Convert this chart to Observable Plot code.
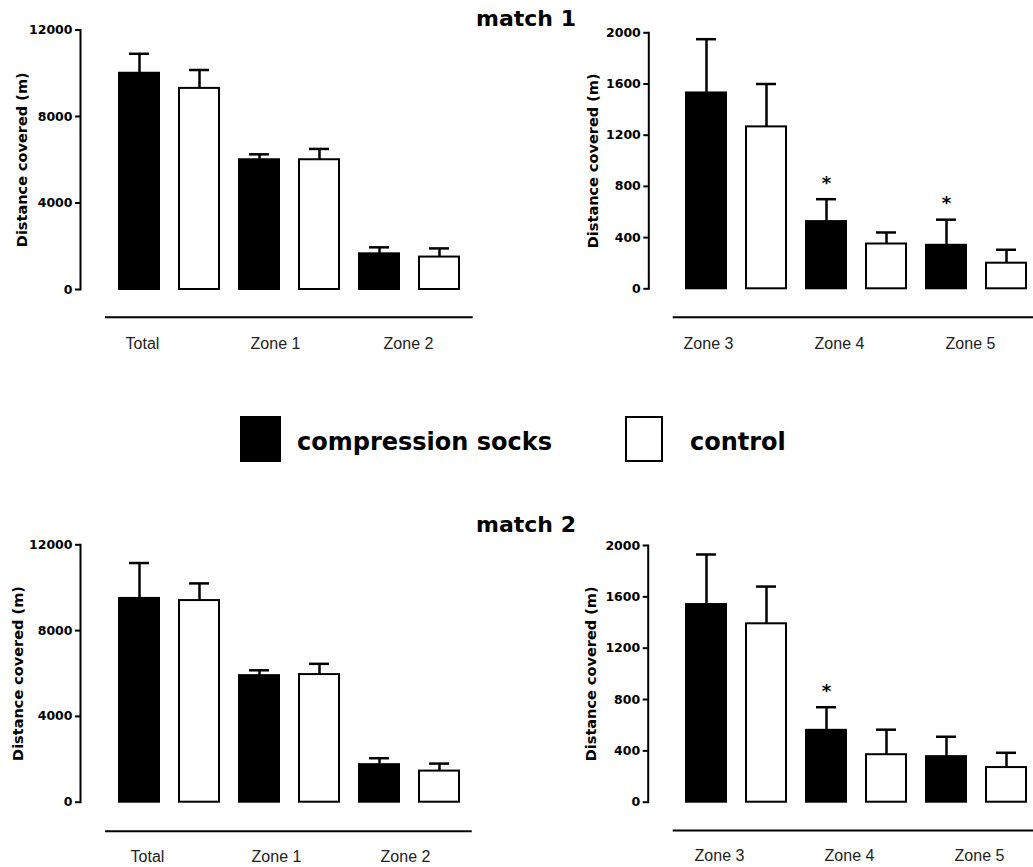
<!DOCTYPE html>
<html><head><meta charset="utf-8">
<script src="https://cdn.jsdelivr.net/npm/d3@7"></script>
<script src="https://cdn.jsdelivr.net/npm/@observablehq/plot@0.6"></script>
<style>
body{margin:0;background:#fff}
#root{position:relative;width:1033px;height:867px;overflow:hidden;background:#fff}
.abs{position:absolute}
.title{font-family:"DejaVu Sans",sans-serif;font-weight:bold;font-size:22px;line-height:1;color:#000;text-align:center;white-space:nowrap}
.legtext{font-family:"DejaVu Sans",sans-serif;font-weight:bold;font-size:24px;line-height:1;color:#000;white-space:nowrap}
.box{box-sizing:border-box;border:2px solid #000}
</style></head>
<body><div id="root"></div>
<script>
// ---- data ----
const series = ["compression socks", "control"];
const yLabel = "Distance covered (m)";
const groupsA = ["Total", "Zone 1", "Zone 2"];
const groupsB = ["Zone 3", "Zone 4", "Zone 5"];
const ticksA = [0, 4000, 8000, 12000];
const ticksB = [0, 400, 800, 1200, 1600, 2000];

// match 1
const m1A_socks = [10000, 6000, 1650];
const m1A_socksSd = [900, 250, 300];
const m1A_ctrl = [9300, 6000, 1500];
const m1A_ctrlSd = [850, 500, 400];
const m1B_socks = [1530, 525, 340];
const m1B_socksSd = [420, 175, 200];
const m1B_ctrl = [1265, 350, 200];
const m1B_ctrlSd = [335, 90, 105];
const m1B_sig = [false, true, true];

// match 2
const m2A_socks = [9500, 5900, 1750];
const m2A_socksSd = [1650, 250, 300];
const m2A_ctrl = [9400, 5950, 1450];
const m2A_ctrlSd = [800, 500, 350];
const m2B_socks = [1540, 560, 355];
const m2B_socksSd = [390, 180, 155];
const m2B_ctrl = [1390, 370, 270];
const m2B_ctrlSd = [290, 195, 115];
const m2B_sig = [false, true, false];

const root = document.getElementById("root");

function place(el, left, top) {
  el.style.position = "absolute";
  el.style.left = left + "px";
  el.style.top = top + "px";
  root.appendChild(el);
}

function buildRows(groups, socks, socksSd, ctrl, ctrlSd, sig) {
  const rows = [];
  groups.forEach((g, i) => {
    rows.push({key: g + "|" + series[0], series: series[0], mean: socks[i], sd: socksSd[i], sig: sig ? sig[i] : false});
    rows.push({key: g + "|" + series[1], series: series[1], mean: ctrl[i], sd: ctrlSd[i], sig: false});
  });
  return rows;
}

const catFont = "'Liberation Sans Narrow', 'Arial Narrow', 'Liberation Sans', sans-serif";

function panel(p) {
  const rows = buildRows(p.groups, p.socks, p.socksSd, p.ctrl, p.ctrlSd, p.sig);
  const svg = Plot.plot({
    width: p.width, height: p.height,
    marginTop: p.marginTop, marginBottom: p.marginBottom,
    marginLeft: p.marginLeft, marginRight: 0,
    x: {type: "band", domain: rows.map(d => d.key), range: p.xRange, padding: 0.34, axis: null},
    y: {domain: [0, p.yMax], axis: null},
    color: {domain: series, range: ["#000", "#fff"]},
    style: {fontFamily: "'DejaVu Sans', sans-serif", fontWeight: "bold", fontSize: "12.5px", color: "#000", background: "transparent"},
    marks: [
      Plot.frame({anchor: "left", stroke: "#000", strokeWidth: 2}),
      Plot.axisY({ticks: p.ticks, tickSize: 5, tickPadding: 3, stroke: "#000", strokeWidth: 2,
                  tickFormat: d => String(d), fontWeight: "bold", fontSize: 12.5, fill: "#000", label: null}),
      Plot.barY(rows, {x: "key", y: "mean", fill: "series", stroke: "#000", strokeWidth: 2}),
      Plot.ruleX(rows, {x: "key", y1: "mean", y2: d => d.mean + d.sd, stroke: "#000", strokeWidth: 2.5}),
      Plot.tickY(rows, {x: "key", y: d => d.mean + d.sd, stroke: "#000", strokeWidth: 2.5, insetLeft: 10, insetRight: 10}),
      Plot.text(rows.filter(d => d.sig), {x: "key", y: d => d.mean + d.sd, text: () => "*", dy: -16,
                fontSize: 18, fontWeight: "bold", fill: "#000"}),
      Plot.text([yLabel], {frameAnchor: "left", textAnchor: "middle", lineAnchor: "middle", rotate: -90,
                dx: p.labelDx, fontSize: 14.5, fontWeight: "bold", fill: "#000"})
    ]
  });
  place(svg, p.left, p.top);

  const s = p.strip;
  const strip = Plot.plot({
    width: p.width, height: s.height,
    marginTop: s.marginTop, marginBottom: 0, marginLeft: s.marginLeft, marginRight: s.marginRight,
    x: {type: "point", domain: p.groups, range: s.labelRange, padding: 0, axis: null},
    y: {domain: [0, 1], axis: null},
    style: {fontFamily: catFont, fontSize: "16px", color: "#000", background: "transparent"},
    marks: [
      Plot.ruleY([1], {stroke: "#000", strokeWidth: 2}),
      Plot.text(p.groups, {x: d => d, frameAnchor: "top", lineAnchor: "middle", textAnchor: "middle",
                dy: s.dy, fontSize: 16, fill: "#222", fontFamily: catFont})
    ]
  });
  place(strip, p.left, s.top);
}

// match 1, left
panel({groups: groupsA, socks: m1A_socks, socksSd: m1A_socksSd, ctrl: m1A_ctrl, ctrlSd: m1A_ctrlSd, sig: null,
  yMax: 12000, ticks: ticksA, left: 0, top: 0, width: 490, height: 300, marginTop: 29.5, marginBottom: 11,
  marginLeft: 80, xRange: [95.8, 481.8], labelDx: -58.3,
  strip: {top: 300, height: 60, marginTop: 16.7, marginLeft: 105, marginRight: 17.3, labelRange: [141.7, 409], dy: 26.5}});
// match 1, right
panel({groups: groupsB, socks: m1B_socks, socksSd: m1B_socksSd, ctrl: m1B_ctrl, ctrlSd: m1B_ctrlSd, sig: m1B_sig,
  yMax: 2000, ticks: ticksB, left: 570, top: 0, width: 463, height: 300, marginTop: 32.3, marginBottom: 11.7,
  marginLeft: 78.3, xRange: [93.7, 477.3], labelDx: -55.3,
  strip: {top: 300, height: 60, marginTop: 16.7, marginLeft: 102.7, marginRight: 0, labelRange: [137.7, 400], dy: 26.5}});
// match 2, left
panel({groups: groupsA, socks: m2A_socks, socksSd: m2A_socksSd, ctrl: m2A_ctrl, ctrlSd: m2A_ctrlSd, sig: null,
  yMax: 12000, ticks: ticksA, left: 0, top: 510, width: 490, height: 300, marginTop: 34.3, marginBottom: 8.3,
  marginLeft: 80, xRange: [95.8, 481.8], labelDx: -61.7,
  strip: {top: 810, height: 57, marginTop: 20.7, marginLeft: 105, marginRight: 18.3, labelRange: [146.7, 406], dy: 25.5}});
// match 2, right
panel({groups: groupsB, socks: m2B_socks, socksSd: m2B_socksSd, ctrl: m2B_ctrl, ctrlSd: m2B_ctrlSd, sig: m2B_sig,
  yMax: 2000, ticks: ticksB, left: 570, top: 510, width: 463, height: 300, marginTop: 35, marginBottom: 8.3,
  marginLeft: 77.7, xRange: [93.7, 477.3], labelDx: -56.9,
  strip: {top: 810, height: 57, marginTop: 20, marginLeft: 102.7, marginRight: 0, labelRange: [149, 409.3], dy: 25.5}});

// titles
function title(text, top) {
  const d = document.createElement("div");
  d.className = "title";
  d.style.width = "200px";
  d.textContent = text;
  place(d, 426, top);
}
title("match 1", 8);
title("match 2", 514);

// legend
const b1 = document.createElement("div");
b1.className = "box"; b1.style.width = "41px"; b1.style.height = "46px"; b1.style.background = "#000";
place(b1, 240, 416);
const t1 = document.createElement("div");
t1.className = "legtext"; t1.textContent = series[0];
place(t1, 297, 430);
const b2 = document.createElement("div");
b2.className = "box"; b2.style.width = "38px"; b2.style.height = "46px"; b2.style.background = "#fff";
place(b2, 625, 416);
const t2 = document.createElement("div");
t2.className = "legtext"; t2.textContent = series[1];
place(t2, 690, 430);
</script>
</body></html>
